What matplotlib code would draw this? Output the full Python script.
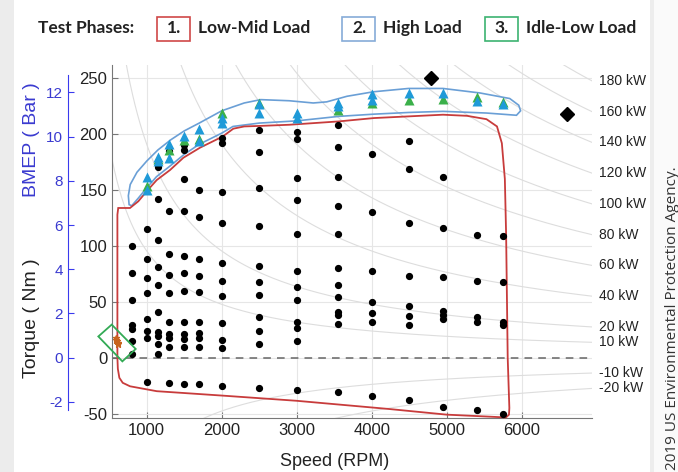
import numpy as np
import matplotlib.pyplot as plt
from matplotlib.patches import Rectangle, Polygon

plt.rcParams['axes.unicode_minus'] = False

# measured test points: speed columns and the torque values found in each
dot_speeds = [800, 1000, 1150, 1300, 1500, 1700, 2000, 2500, 3000, 3550, 4000, 4500, 4950, 5400, 5750]
dot_torques = [
    [100, 76, 52, 29, 26, 15, 3],
    [115, 88, 71, 58, 35, 24, 18, -22],
    [171, 142, 105, 81, 65, 41, 23, 19, 12, 3],
    [185, 131, 93, 74, 58, 32, 21, 18, 10, -23],
    [190, 186, 160, 131, 91, 76, 60, 32, 21, 17, 10, -24],
    [150, 126, 88, 73, 59, 32, 22, 18, 10, -24],
    [197, 192, 148, 121, 85, 69, 55, 31, 16, 9, -25],
    [204, 184, 152, 118, 82, 68, 56, 36, 24, 12, -27],
    [202, 196, 161, 141, 111, 78, 63, 52, 32, 27, 15, -29],
    [208, 189, 162, 136, 111, 80, 65, 54, 41, 38, 30, -31],
    [182, 130, 78, 50, 40, 32, -34],
    [194, 169, 121, 73, 46, 37, 29, -38],
    [162, 116, 72, 42, 38, 35, -44],
    [110, 69, 36, 32, -47],
    [109, 68, 32, 29, -50],
]

blue_rpm = [1000, 1000, 1150, 1150, 1300, 1300, 1500, 1700, 1700, 2000, 2000, 2500, 2500,
            3000, 3000, 3550, 3550, 4000, 4000, 4500, 4950, 5400, 5750]
blue_nm = [162, 150, 180, 176, 191, 179, 198, 205, 194, 215, 210, 227, 219,
           219, 215, 228, 225, 236, 231, 237, 237, 230, 227]
green_rpm = [1000, 1150, 1300, 1500, 1700, 2000, 2500, 3550, 4000, 4500, 4950, 5400, 5750]
green_nm = [154, 178, 186, 195, 196, 219, 228, 222, 228, 231, 232, 233, 229]

diamond_rpm = [4790, 6600]
diamond_nm = [250, 218]

idle_rpm = [585, 600, 612, 595, 620]
idle_nm = [18, 15, 12, 16, 13]

# test phase outlines (speed, torque)
red_outline = [(609, 0), (609, 128), (620, 134), (777, 134), (888, 140), (1000, 149), (1133, 159),
               (1311, 168), (1489, 179), (1711, 188), (2013, 198), (2155, 205), (2300, 207),
               (2520, 207.5), (2900, 208.5), (3560, 211.5), (4030, 214.5), (4490, 216),
               (4950, 217.5), (5270, 216.5), (5530, 213.5), (5670, 207), (5735, 192),
               (5775, 160), (5792, 110), (5813, 0), (5835, -45), (5830, -51), (5790, -53.5),
               (5000, -51), (4240, -46), (3000, -38.6), (2020, -34), (1133, -30), (777, -25.6),
               (680, -22.5), (635, -18), (615, -10), (609, 0)]
blue_outline = [(755, 145), (780, 155), (870, 166), (1000, 176), (1150, 186), (1320, 195),
                (1500, 203), (1700, 210), (2000, 221), (2300, 228), (2520, 231), (2900, 230),
                (3220, 228), (3400, 229), (3670, 234), (4020, 238), (4490, 241), (4950, 241),
                (5440, 237), (5840, 232), (5960, 226), (5985, 221), (5930, 217), (5530, 219),
                (4950, 220.5), (4490, 219.5), (4030, 218), (3560, 216), (3000, 212),
                (2500, 210), (2150, 207), (2000, 201), (1700, 191), (1500, 182), (1300, 171),
                (1130, 162), (1000, 152), (890, 143), (800, 136), (765, 137), (755, 145)]
green_box = [(533, 29.6), (355, 19), (675, -3.3), (853, 7.8)]

power_kw = [180, 160, 140, 120, 100, 80, 60, 40, 20, 10, -10, -20]

NM_PER_BAR = 19.79
xlim = (537, 6937)
ylim = (-54, 262)

W, H = 678, 472
fig = plt.figure(figsize=(W / 100, H / 100), dpi=100)
fig.patch.set_facecolor('white')

# page shading
fig.add_artist(Rectangle((0, 0), 14 / W, 1, transform=fig.transFigure, fc='#ececec', ec='none'))
fig.add_artist(Rectangle((650 / W, 0), 4 / W, 1, transform=fig.transFigure, fc='#ededed', ec='none'))
fig.add_artist(Rectangle((654 / W, 0), 24 / W, 1, transform=fig.transFigure, fc='#fafafa', ec='none'))

ax = fig.add_axes([112 / W, 1 - 418 / H, 480 / W, 353 / H])
ax.set_xlim(*xlim)
ax.set_ylim(*ylim)
ax.set_facecolor('none')

# iso-power lines
rpm = np.linspace(xlim[0], xlim[1], 400)
for p in power_kw:
    tq = p * 1000 * 60 / (2 * np.pi * rpm)
    ax.plot(rpm, tq, color='#dddddd', lw=0.8, zorder=1)
    ax.annotate(f'{p} kW', xy=(xlim[1], tq[-1]), xytext=(5, 0), textcoords='offset points',
                va='center', ha='left', fontsize=10, color='#222222',
                family='Liberation Sans', annotation_clip=False)

ax.axhline(0, color='#666666', lw=1.1, ls=(0, (5, 4)), zorder=2)

for s, tqs in zip(dot_speeds, dot_torques):
    ax.plot([s] * len(tqs), tqs, 'o', color='black', ms=4.2, zorder=4)

ax.plot(green_rpm, green_nm, '^', color='#3bb04a', ms=7, mec='none', zorder=5)
ax.plot(blue_rpm, blue_nm, '^', color='#1f9ad8', ms=7, mec='none', zorder=6)
ax.plot(diamond_rpm, diamond_nm, 'D', color='black', ms=7, zorder=6, clip_on=False)
ax.plot(idle_rpm, idle_nm, '*', color='#c8641e', ms=5, zorder=6, clip_on=False)

ax.add_patch(Polygon(blue_outline, closed=True, fill=False, ec='#6a9fd6', lw=1.2, zorder=3))
ax.add_patch(Polygon(red_outline, closed=True, fill=False, ec='#c83c3c', lw=1.3, zorder=3,
                     clip_on=False))
ax.add_patch(Polygon(green_box, closed=True, fill=False, ec='#33aa55', lw=1.3, zorder=6,
                     clip_on=False))

ax.set_xticks([1000, 2000, 3000, 4000, 5000, 6000])
ax.set_yticks([-50, 0, 50, 100, 150, 200, 250])
ax.grid(True, color='#e6e6e6', lw=0.8)
ax.set_axisbelow(True)
for side in ['top', 'right']:
    ax.spines[side].set_visible(False)
for side in ['left', 'bottom']:
    ax.spines[side].set_color('#777777')
ax.tick_params(direction='in', length=4, color='#777777', labelcolor='#222222', labelsize=12)
for lbl in ax.get_xticklabels() + ax.get_yticklabels():
    lbl.set_family('Liberation Sans')

# BMEP axis
ax2 = ax.twinx()
ax2.set_ylim(ylim[0] / NM_PER_BAR, ylim[1] / NM_PER_BAR)
for side in ['top', 'right', 'bottom']:
    ax2.spines[side].set_visible(False)
ax2.spines['left'].set_visible(True)
ax2.spines['left'].set_position(('outward', 44 * 0.72))
ax2.spines['left'].set_bounds(-2.35, 12.8)
ax2.spines['left'].set_color('#3a3aee')
ax2.yaxis.set_ticks_position('left')
ax2.set_yticks([-2, 0, 2, 4, 6, 8, 10, 12])
ax2.tick_params(direction='in', length=4, color='#3a3aee', labelcolor='#3a3ad0', labelsize=11)
for lbl in ax2.get_yticklabels():
    lbl.set_family('Liberation Sans')

fig.text(335 / W, 1 - 462 / H, 'Speed (RPM)', ha='center', va='center', fontsize=13,
         family='Liberation Sans', color='#222222')
fig.text(31 / W, 1 - 318 / H, 'Torque ( Nm )', ha='center', va='center', fontsize=14,
         rotation=90, family='Liberation Sans', color='#222222')
fig.text(31 / W, 1 - 140 / H, 'BMEP ( Bar )', ha='center', va='center', fontsize=14,
         rotation=90, family='Liberation Sans', color='#3a3ad0')

# test phase header
ty = 1 - 28 / H
hdr = dict(va='center', fontsize=12.5, family='Lato', weight='bold', color='#222222')
fig.text(38 / W, ty, 'Test Phases:', ha='left', **hdr)
for x0, num, label, col in [(157, '1.', 'Low-Mid Load', '#d04848'),
                            (342, '2.', 'High Load', '#86acd8'),
                            (485, '3.', 'Idle-Low Load', '#3cb371')]:
    fig.add_artist(Rectangle((x0 / W, 1 - 41 / H), 33 / W, 24 / H, transform=fig.transFigure,
                             fill=False, ec=col, lw=1.2))
    fig.text((x0 + 17) / W, ty, num, ha='center', **hdr)
    fig.text((x0 + 41) / W, ty, label, ha='left', **hdr)

fig.text(672 / W, 1 - 470 / H, '2019 US Environmental Protection Agency.', rotation=90,
         ha='center', va='bottom', fontsize=11, family='Open Sans', color='#333333')

fig.savefig('out.png', dpi=100)
